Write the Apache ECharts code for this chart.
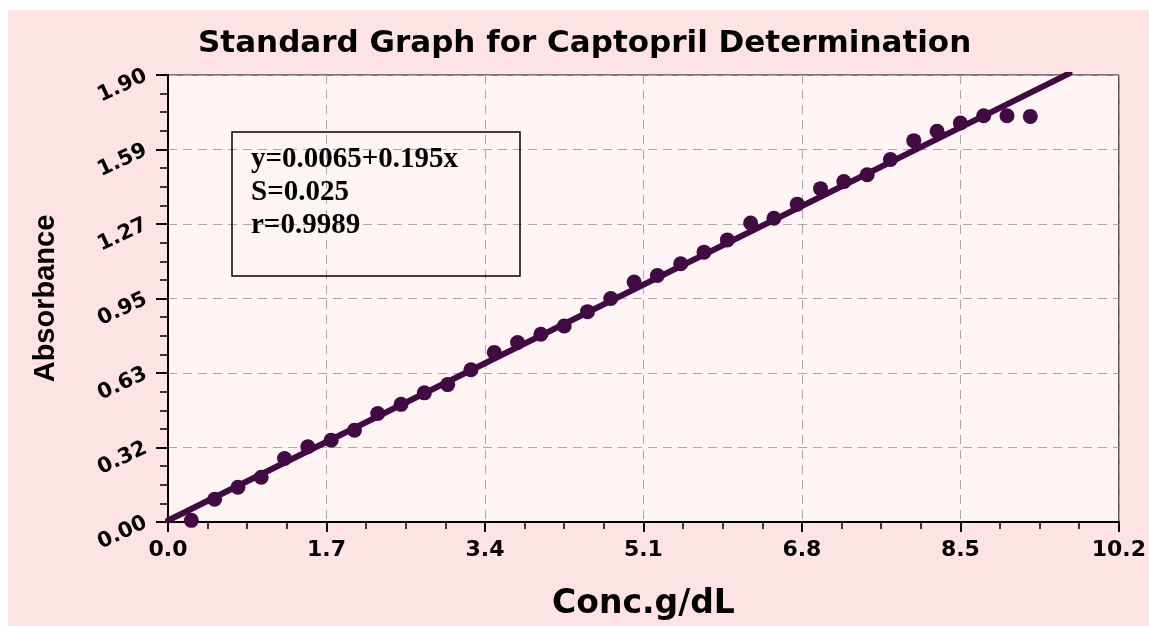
<!DOCTYPE html>
<html>
<head>
<meta charset="utf-8">
<title>Standard Graph for Captopril Determination</title>
<script src="https://cdn.jsdelivr.net/npm/echarts@6/dist/echarts.min.js"></script>
<style>
  html, body { margin: 0; padding: 0; background: #fff; }
  #captopril-chart { width: 1149px; height: 626px; }
</style>
</head>
<body>
<div id="captopril-chart"></div>
<script>
// values
const conc = [0.25, 0.5, 0.75, 1, 1.25, 1.5, 1.75, 2, 2.25, 2.5, 2.75, 3, 3.25, 3.5, 3.75, 4, 4.25, 4.5, 4.75,
  5, 5.25, 5.5, 5.75, 6, 6.25, 6.5, 6.75, 7, 7.25, 7.5, 7.75, 8, 8.25, 8.5, 8.75, 9, 9.25]
const absorbance = [0.007, 0.097, 0.148, 0.19, 0.27, 0.32, 0.348, 0.39, 0.461, 0.50, 0.549, 0.584, 0.647, 0.721,
  0.763, 0.798, 0.833, 0.894, 0.95, 1.02, 1.048, 1.098, 1.147, 1.199, 1.271, 1.291, 1.351, 1.417, 1.447, 1.476,
  1.541, 1.621, 1.661, 1.696, 1.727, 1.727, 1.724]
// regression line y=0.0065+0.195x, ends where it leaves the frame
const fitLine = [[0, 0.0065], [9.67, 1.907]]
const xTickLabels = ['0.0', '1.7', '3.4', '5.1', '6.8', '8.5', '10.2']
const yTickLabels = ['0.00', '0.32', '0.63', '0.95', '1.27', '1.59', '1.90']
const statLines = ['y=0.0065+0.195x', 'S=0.025', 'r=0.9989']

const purple = '#420a42'
const yStep = 1.9 / 6

let chart = echarts.init(document.getElementById('captopril-chart'))

chart.setOption({
  animation: false,
  backgroundColor: '#ffffff',
  title: {
    text: 'Standard Graph for Captopril Determination',
    left: 193,
    top: 23,
    textStyle: {
      fontFamily: 'DejaVu Sans',
      fontWeight: 'bold',
      fontSize: 31,
      color: '#000'
    }
  },
  graphic: [
    {
      type: 'rect',
      z: -100,
      silent: true,
      shape: { x: 8, y: 10, width: 1141, height: 616 },
      style: { fill: '#fde3e3' }
    },
    {
      type: 'rect',
      z: 50,
      silent: true,
      shape: { x: 232, y: 132, width: 288, height: 144 },
      style: { fill: 'none', stroke: '#000', lineWidth: 1.5 }
    },
    {
      type: 'text',
      z: 51,
      silent: true,
      left: 251,
      top: 143,
      style: {
        text: statLines.join('\n'),
        fill: '#000',
        font: 'bold 29px "Liberation Serif", "Times New Roman", serif',
        lineHeight: 33
      }
    }
  ],
  grid: {
    left: 168,
    top: 75,
    right: 30,
    bottom: 101,
    show: true,
    backgroundColor: '#fff4f4',
    borderColor: '#000',
    borderWidth: 1
  },
  xAxis: {
    type: 'value',
    min: 0,
    max: 10.2,
    interval: 1.7,
    name: 'Conc.g/dL',
    nameLocation: 'middle',
    nameGap: 66,
    nameTextStyle: {
      fontFamily: 'DejaVu Sans',
      fontWeight: 'bold',
      fontSize: 33,
      color: '#000'
    },
    axisLine: { onZero: false, lineStyle: { color: '#000', width: 2 } },
    axisTick: { show: true, length: 10, lineStyle: { color: '#000', width: 2 } },
    minorTick: { show: true, splitNumber: 4, length: 7, lineStyle: { color: '#000', width: 1.5 } },
    axisLabel: {
      margin: 17,
      fontFamily: 'DejaVu Sans',
      fontWeight: 'bold',
      fontSize: 22,
      color: '#000',
      formatter: function (v) {
        return xTickLabels[Math.round(v / 1.7)]
      }
    },
    splitLine: { show: true, lineStyle: { color: '#a8a8a8', type: [9, 6], width: 1 } }
  },
  yAxis: {
    type: 'value',
    min: 0,
    max: 1.9,
    interval: yStep,
    name: 'Absorbance',
    nameLocation: 'middle',
    nameRotate: 90,
    nameGap: 108,
    nameTextStyle: {
      fontFamily: 'Liberation Sans',
      fontWeight: 'bold',
      fontSize: 29,
      color: '#000'
    },
    axisLine: { onZero: false, lineStyle: { color: '#000', width: 2 } },
    axisTick: { show: true, length: 12, lineStyle: { color: '#000', width: 2 } },
    minorTick: { show: true, splitNumber: 4, length: 8, lineStyle: { color: '#000', width: 1.5 } },
    axisLabel: {
      margin: 22,
      rotate: 25,
      fontFamily: 'DejaVu Sans',
      fontWeight: 'bold',
      fontSize: 21,
      color: '#000',
      formatter: function (v) {
        return yTickLabels[Math.round(v / yStep)]
      }
    },
    splitLine: { show: true, lineStyle: { color: '#a8a8a8', type: [9, 6], width: 1 } }
  },
  series: [
    {
      name: 'fit',
      type: 'line',
      data: fitLine,
      showSymbol: false,
      symbol: 'none',
      lineStyle: { color: purple, width: 6, cap: 'round' },
      z: 3
    },
    {
      name: 'Absorbance',
      type: 'scatter',
      data: conc.map(function (c, i) { return [c, absorbance[i]] }),
      symbol: 'circle',
      symbolSize: 15,
      itemStyle: { color: purple, opacity: 1 },
      z: 4
    }
  ]
})
</script>
</body>
</html>
